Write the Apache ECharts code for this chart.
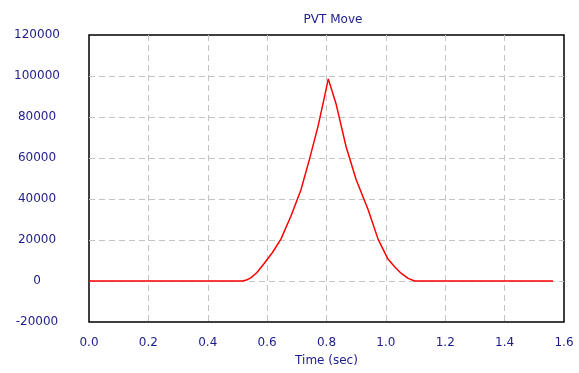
<!DOCTYPE html>
<html>
<head>
<meta charset="utf-8">
<script src="https://cdn.jsdelivr.net/npm/echarts@6/dist/echarts.min.js"></script>
<style>
  html, body { margin: 0; padding: 0; background: #ffffff; }
  #chart { width: 579px; height: 373px; }
</style>
</head>
<body>
<div id="chart"></div>
<script>
// Velocity profile of the PVT move
const timeSec = [0.0, 0.517, 0.530, 0.545, 0.565, 0.590, 0.618, 0.646, 0.680, 0.714, 0.742, 0.771, 0.793, 0.806,
                 0.832, 0.866, 0.900, 0.940, 0.974, 1.007, 1.030, 1.052, 1.075, 1.097, 1.563];
const velocity = [0, 0, 500, 1500, 4000, 8500, 13900, 20300, 31600, 44500, 59100, 75200, 89700, 98600,
                  86500, 65500, 49400, 34900, 20300, 10700, 6800, 3700, 1300, 0, 0];
const xTicks = ['0.0', '0.2', '0.4', '0.6', '0.8', '1.0', '1.2', '1.4', '1.6'];

const textColor = '#1c1c8a';
const font = 'DejaVu Sans, Verdana, sans-serif';
const gridLine = { show: true, showMinLine: false, showMaxLine: false,
                   lineStyle: { color: '#c4c4c4', type: [6, 4], width: 1 } };

const chart = echarts.init(document.getElementById('chart'), null, { renderer: 'canvas' });
chart.setOption({
  animation: false,
  backgroundColor: '#ffffff',
  title: {
    text: 'PVT Move',
    left: 328, top: 9,
    textAlign: 'center',
    textStyle: { color: textColor, fontSize: 12, fontWeight: 'normal', fontFamily: font }
  },
  grid: { left: 89, right: 15, top: 35, bottom: 51, show: true, borderColor: '#000000', borderWidth: 1.5, backgroundColor: '#ffffff' },
  xAxis: {
    type: 'value',
    min: 0, max: 1.6, interval: 0.2,
    name: 'Time (sec)',
    nameLocation: 'middle',
    nameGap: 33,
    nameTextStyle: { color: textColor, fontSize: 12, fontFamily: font },
    axisLine: { show: false },
    axisTick: { show: false },
    axisLabel: {
      color: textColor, fontSize: 12, fontFamily: font, margin: 15,
      formatter: function (v) { return xTicks[Math.round(v / 0.2)]; }
    },
    splitLine: gridLine
  },
  yAxis: {
    type: 'value',
    min: -20000, max: 120000, interval: 20000,
    axisLine: { show: false },
    axisTick: { show: false },
    axisLabel: { color: textColor, fontSize: 12, fontFamily: font, margin: 52, align: 'center',
                 formatter: function (v) { return String(v); } },
    splitLine: gridLine
  },
  series: [{
    type: 'line',
    data: timeSec.map((t, i) => [t, velocity[i]]),
    showSymbol: false,
    lineStyle: { color: '#ff0000', width: 1.5 }
  }]
});
</script>
</body>
</html>
